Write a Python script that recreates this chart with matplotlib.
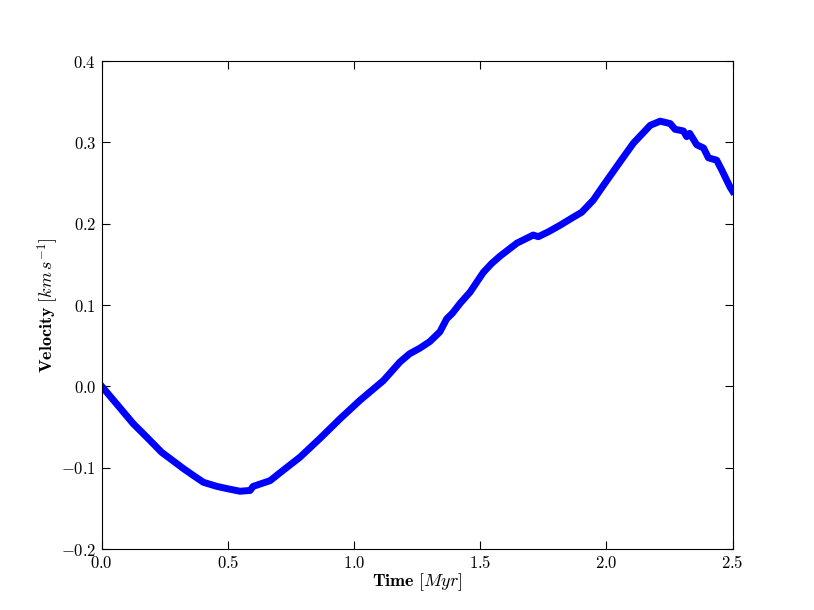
import matplotlib
matplotlib.use('Agg')
import matplotlib.pyplot as plt
from matplotlib.ticker import FuncFormatter

plt.rcParams['mathtext.fontset'] = 'cm'
plt.rcParams['font.family'] = 'serif'
plt.rcParams['font.serif'] = ['DejaVu Serif']

# time [Myr] and velocity [km/s]
time = [0.0, 0.06, 0.125, 0.18, 0.237, 0.28, 0.323, 0.36, 0.403, 0.456, 0.50,
        0.548, 0.588, 0.60, 0.667, 0.72, 0.786, 0.865, 0.944, 1.024,
        1.116, 1.182, 1.22, 1.261, 1.30, 1.34, 1.367, 1.39, 1.42, 1.46, 1.512,
        1.545, 1.578, 1.645, 1.71, 1.73, 1.77, 1.816, 1.869, 1.902, 1.948, 1.988,
        2.054, 2.107, 2.174, 2.213, 2.253, 2.272, 2.305, 2.318, 2.33, 2.358,
        2.385, 2.404, 2.437, 2.457, 2.49, 2.5]
velocity = [0.0, -0.022, -0.046, -0.063, -0.081, -0.091, -0.101, -0.109,
            -0.118, -0.123, -0.126, -0.129, -0.128, -0.123, -0.116, -0.103,
            -0.087, -0.064, -0.040, -0.017, 0.007, 0.030, 0.040, 0.047,
            0.055, 0.067, 0.083, 0.090, 0.102, 0.116, 0.140, 0.151, 0.160,
            0.176, 0.186, 0.184, 0.190, 0.198, 0.208, 0.214, 0.229, 0.247,
            0.276, 0.299, 0.321, 0.326, 0.323, 0.316, 0.314, 0.307, 0.311,
            0.297, 0.293, 0.281, 0.278, 0.266, 0.245, 0.240]

fig = plt.figure(figsize=(8.14, 6.1), dpi=100)
ax = fig.add_subplot(111)
fig.subplots_adjust(left=0.125, right=0.9, bottom=0.1, top=0.9)

ax.plot(time, velocity, color='#0000ff', linewidth=5, solid_joinstyle='round')

ax.set_xlim(0, 2.5)
ax.set_ylim(-0.2, 0.4)
ax.set_xticks([0.0, 0.5, 1.0, 1.5, 2.0, 2.5])
ax.set_yticks([-0.2, -0.1, 0.0, 0.1, 0.2, 0.3, 0.4])
fmt = FuncFormatter(lambda v, p: r'$%.1f$' % v)
ax.xaxis.set_major_formatter(fmt)
ax.yaxis.set_major_formatter(fmt)
ax.tick_params(direction='in', top=True, right=True, length=6, labelsize=12, pad=4)

ax.set_xlabel(r'$\mathbf{Time}\ [Myr]$', fontsize=13, labelpad=0)
ax.set_ylabel(r'$\mathbf{Velocity}\ [km\,s^{-1}]$', fontsize=13, labelpad=0)

fig.savefig('out.png', dpi=100)
